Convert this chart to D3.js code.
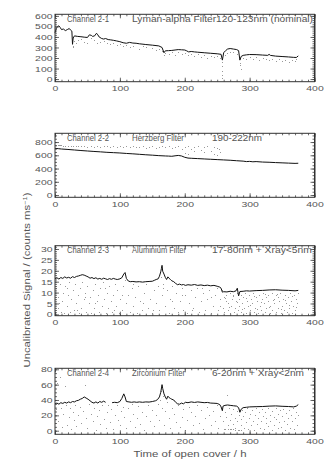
<!DOCTYPE html>
<html>
<head>
<meta charset="utf-8">
<script src="https://cdn.jsdelivr.net/npm/d3@7"></script>
<style>
  html, body { margin: 0; padding: 0; background: #fff; }
  svg { display: block; }
  text { font-family: "Liberation Sans", sans-serif; fill: #555; }
</style>
</head>
<body>
<svg id="chart" width="332" height="469"></svg>
<script>
// ---- data ----
const xTicks = [0, 100, 200, 300, 400];

const titles = [
  ["Channel 2-1", "Lyman-alpha Filter120-123nm (nominal)", ""],
  ["Channel 2-2", "Herzberg Filter", "190-222nm"],
  ["Channel 2-3", "Aluminium Filter", "17-80nm + Xray<5nm"],
  ["Channel 2-4", "Zirconium Filter", "6-20nm + Xray<2nm"]
];

const yTicks1 = [0, 100, 200, 300, 400, 500, 600];
const yTicks2 = [0, 200, 400, 600, 800];
const yTicks3 = [0, 5, 10, 15, 20, 25, 30];
const yTicks4 = [0, 20, 40, 60, 80];

// main traces [hours, signal]
const lyman = [[0,440],[2,480],[4,500],[6,505],[8,490],[10,470],[13,475],[16,460],[19,470],[22,480],[24,465],[26,455],[27,330],[28,390],[30,410],[35,405],[40,402],[45,398],[50,395],[53,420],[56,415],[58,405],[61,410],[64,435],[66,420],[68,400],[72,385],[75,380],[78,385],[82,375],[86,372],[90,368],[95,362],[100,355],[105,345],[110,340],[115,348],[120,342],[125,340],[130,335],[140,328],[150,322],[160,315],[165,300],[168,250],[170,268],[175,270],[180,272],[185,276],[190,280],[195,278],[200,276],[203,268],[206,258],[210,262],[215,258],[220,255],[230,250],[240,245],[250,240],[256,235],[258,180],[260,250],[263,270],[266,285],[270,290],[275,285],[280,280],[283,270],[285,180],[287,215],[290,225],[295,230],[300,233],[310,232],[320,228],[328,225],[330,235],[332,225],[340,218],[350,214],[360,210],[368,206],[372,205],[375,220]];

const herzberg = [[0,705],[5,700],[10,695],[20,688],[30,680],[40,672],[50,665],[60,658],[70,652],[80,645],[90,640],[100,635],[110,628],[120,622],[130,615],[140,608],[150,602],[160,595],[170,590],[175,588],[180,585],[185,592],[190,598],[195,590],[200,570],[205,558],[210,555],[220,550],[230,545],[240,540],[250,535],[260,530],[270,525],[280,518],[290,512],[295,505],[300,508],[305,502],[310,505],[320,498],[330,495],[340,490],[350,486],[360,482],[370,478],[375,480]];

const aluminium = [[0,16.3],[3,16.8],[6,16.2],[9,16.9],[12,16.5],[15,17.2],[18,16.7],[21,17.0],[24,16.6],[27,17.3],[30,16.9],[33,17.4],[36,17.6],[39,17.9],[42,18.2],[45,18.0],[48,17.6],[51,17.2],[54,16.6],[57,16.9],[60,16.4],[63,16.8],[66,16.2],[69,16.5],[72,16.1],[75,16.6],[78,16.3],[81,16.0],[84,16.4],[87,16.1],[90,16.5],[93,16.2],[96,16.0],[100,16.3],[103,16.8],[106,18.5],[108,19.2],[110,16.5],[113,15.3],[116,15.0],[120,15.1],[125,14.9],[130,15.0],[135,14.8],[140,15.0],[145,15.1],[150,15.2],[153,15.6],[156,16.0],[159,16.3],[161,17.5],[163,19.5],[164,21.0],[165,22.5],[166,19.8],[168,18.5],[170,17.0],[172,16.0],[174,17.2],[176,16.5],[178,16.0],[180,15.4],[183,15.0],[186,14.2],[189,13.6],[192,13.9],[195,13.5],[198,13.7],[201,13.3],[205,13.6],[210,13.4],[215,13.7],[220,13.3],[225,13.5],[230,13.2],[235,13.4],[240,13.1],[245,13.3],[250,12.9],[254,12.5],[256,12.0],[258,10.2],[260,10.4],[265,10.3],[270,10.6],[275,10.4],[279,10.8],[281,12.0],[283,8.5],[285,10.5],[290,10.6],[295,10.8],[300,10.7],[310,10.9],[320,11.0],[330,11.2],[340,11.3],[350,11.1],[360,11.0],[370,10.8],[375,11.0]];

const zirconium = [[0,35],[3,36],[6,34.5],[9,36.5],[12,35.5],[15,37],[18,36],[21,37.5],[24,36.5],[27,38],[30,37.5],[33,39],[36,39.5],[39,41],[42,42],[45,44],[48,42.5],[51,41],[54,39],[57,37],[60,36],[63,37.5],[66,36],[69,38],[72,37],[75,38.5],[78,37],[null,null],[88,36.5],[92,37],[96,36.5],[100,38],[103,42],[106,48],[108,44],[110,38],[114,37.5],[118,37],[122,37.5],[126,37],[130,37.5],[135,37],[140,37.5],[145,37.3],[150,38],[155,39],[158,40.5],[161,44],[163,50],[165,60],[166,55],[168,48],[170,44],[172,41],[174,45],[176,43],[178,42],[180,41],[183,40],[186,37],[189,35],[192,34.5],[195,36],[198,35],[201,37],[205,36.5],[210,37.5],[215,36.8],[220,37.5],[225,37],[230,36.5],[235,36.8],[240,36],[245,35.8],[250,35.5],[254,34],[256,31],[258,26],[259,32],[262,33],[266,33.5],[270,33],[275,32.5],[280,32],[283,30],[285,24],[287,28],[290,30],[295,30.5],[300,31],[310,31.3],[320,31.5],[330,32],[340,32.3],[350,31.8],[360,31.5],[368,31],[372,32],[375,34]];

// scattered low samples [hours, signal]
const lymanDots = [[27,300],[28,310],[30,360],[33,340],[36,370],[40,380],[45,355],[50,345],[55,390],[60,370],[65,340],[70,350],[75,360],[80,345],[85,330],[90,340],[95,320],[100,330],[105,310],[110,320],[115,300],[120,315],[130,290],[135,310],[140,300],[150,295],[155,280],[160,290],[165,270],[168,230],[170,250],[175,240],[180,255],[185,230],[190,260],[195,240],[200,250],[205,225],[210,240],[215,220],[220,235],[225,210],[230,225],[235,200],[240,220],[245,205],[250,215],[255,200],[258,160],[258,120],[258,80],[258,40],[258,10],[262,230],[265,250],[270,255],[275,260],[280,240],[285,150],[285,130],[286,100],[290,200],[295,190],[300,210],[305,195],[310,205],[315,185],[320,200],[325,190],[330,180],[335,195],[340,175],[345,190],[350,170],[355,185],[360,165],[365,180],[370,170],[372,190]];

const herzbergDots = [[0,755],[2,758],[4,760],[6,760],[8,760],[10,757],[13,745],[16,742],[20,740],[24,738],[28,742],[32,740],[36,738],[40,736],[45,742],[50,730],[55,738],[60,725],[65,740],[70,728],[75,735],[80,740],[85,725],[90,738],[95,720],[100,735],[105,728],[110,740],[115,722],[120,735],[125,718],[130,730],[135,738],[140,715],[145,728],[150,735],[155,712],[160,730],[165,740],[170,720],[175,735],[180,705],[185,728],[190,740],[195,700],[200,725],[205,740],[210,690],[215,725],[220,735],[225,680],[230,720],[235,735],[240,670],[245,728],[250,715],[253,690],[255,650],[200,640],[205,620],[215,660],[230,650],[245,620],[250,600]];

const aluminiumDots = [[2,12],[4,3],[5,8],[7,14],[9,1],[11,6],[13,10],[14,0.5],[16,13],[18,4],[20,9],[22,15],[23,1],[25,7],[27,11],[29,2],[31,14],[33,5],[35,9],[37,0.5],[38,12],[40,3],[42,15],[44,7],[46,10],[48,1],[50,13],[52,5],[54,8],[56,0.5],[58,11],[60,3],[62,14],[64,6],[66,9],[68,1],[70,12],[72,4],[74,15],[76,7],[78,0.5],[80,10],[82,3],[84,13],[86,6],[88,1],[90,9],[92,14],[94,4],[96,11],[98,0.5],[100,7],[103,2],[105,13],[108,16],[110,5],[112,9],[115,1],[118,12],[120,4],[123,8],[126,0.5],[128,13],[131,6],[134,2],[137,10],[140,14],[143,3],[146,7],[149,0.5],[152,11],[155,5],[158,13],[160,2],[163,17],[165,9],[167,14],[170,4],[172,11],[175,0.5],[177,7],[180,13],[183,3],[186,10],[189,1],[192,6],[195,12],[198,2],[201,9],[204,0.5],[207,5],[210,11],[213,3],[216,8],[219,12],[222,1],[225,6],[228,10],[231,2],[234,7],[237,11],[240,0.5],[243,4],[246,9],[249,12],[252,2],[255,7],[257,11],
  [259,3],[260,8],[261,1],[263,6],[264,9],[266,2],[267,5],[269,10],[270,0.5],[272,4],[273,7],[275,9],[276,1],[278,3],[279,6],[281,10],[282,2],[283,7],[284,4],[286,9],[287,1],[289,5],[290,8],[292,3],[293,10],[295,0.5],[296,6],[298,4],[299,9],[301,2],[302,7],[304,5],[305,10],[307,1],[308,3],[310,8],[311,6],[313,0.5],[314,9],[316,4],[317,2],[319,7],[320,10],[322,5],[323,1],[325,8],[326,3],[328,6],[329,9],[331,0.5],[332,4],[334,10],[335,2],[337,7],[338,5],[340,9],[341,1],[343,3],[344,8],[346,6],[347,10],[349,0.5],[350,4],[352,7],[353,2],[355,9],[356,5],[358,1],[359,8],[361,3],[362,10],[364,6],[365,0.5],[367,4],[368,9],[370,2],[371,7],[373,5],[374,10],
  [262,7.5],[268,3.5],[274,8.5],[280,5.5],[288,2.5],[294,7.5],[300,4.5],[306,8.5],[312,2.5],[318,5.5],[324,9.5],[330,3.5],[336,6.5],[342,9.5],[348,2.5],[354,6.5],[360,4.5],[366,8.5],[372,3.5],
  [6,5],[19,12],[34,2],[47,8],[61,5],[77,12],[91,2],[104,9],[121,14],[136,5],[151,2],[166,12],[181,6],[196,9],[211,2],[226,12],[241,8],[254,4]];

const zirconiumDots = [[1,28],[3,62],[5,12],[7,70],[9,30],[11,5],[13,22],[15,58],[17,33],[19,8],[21,18],[23,29],[25,2],[27,25],[29,14],[31,34],[33,6],[35,20],[38,31],[40,10],[43,26],[46,60],[48,16],[50,3],[53,35],[55,22],[58,12],[60,30],[63,1],[65,19],[68,27],[70,9],[73,33],[75,15],[78,4],[80,24],[82,33],[85,11],[87,28],[90,2],[92,20],[95,34],[97,14],[100,7],[102,26],[105,31],[107,18],[110,3],[112,29],[115,12],[118,35],[120,22],[123,5],[126,16],[128,32],[131,9],[134,25],[137,1],[140,19],[143,34],[146,12],[149,27],[152,6],[155,21],[158,35],[160,14],[162,40],[164,52],[165,30],[166,45],[168,8],[170,26],[173,38],[175,17],[178,3],[180,30],[183,22],[186,11],[189,33],[192,5],[195,18],[198,28],[201,1],[204,14],[207,31],[210,24],[213,7],[216,19],[219,34],[222,10],[225,27],[228,2],[231,16],[234,31],[237,21],[240,8],[243,26],[246,13],[249,33],[252,4],[255,19],[257,28],
  [259,12],[260,2],[262,25],[263,18],[265,47],[266,7],[268,30],[269,14],[271,2],[272,22],[274,28],[275,9],[277,17],[278,3],[280,26],[281,12],[283,20],[284,1],[286,15],[287,8],[289,27],[290,19],[292,4],[293,24],[295,11],[296,29],[298,2],[299,16],[301,22],[302,7],[304,27],[305,13],[307,1],[308,20],[310,29],[311,9],[313,17],[314,24],[316,4],[317,12],[319,28],[320,19],[322,2],[323,25],[325,10],[326,16],[328,29],[329,6],[331,21],[332,13],[334,1],[335,26],[337,18],[338,8],[340,29],[341,15],[343,3],[344,22],[346,11],[347,27],[349,5],[350,19],[352,28],[353,13],[355,1],[356,23],[358,9],[359,17],[361,27],[362,4],[364,20],[365,12],[367,29],[368,2],[370,16],[371,24],[373,8],[374,21],
  [262,2.5],[266,2.2],[270,2],[274,1.8],[278,1.5],[282,1.5],[286,1.2]];

// ---- layout ----
const svg = d3.select("#chart");
const left = 55, right = 314.5;
const x = d3.scaleLinear().domain([0, 400]).range([left, right]);

const panels = [
  { top: 14.3,  bottom: 81.7,  dom: [-25, 615],   ticks: yTicks1, minor: 20, line: lyman,     dots: lymanDots },
  { top: 133.3, bottom: 197.3, dom: [-34, 932],   ticks: yTicks2, minor: 50, line: herzberg,  dots: herzbergDots },
  { top: 245.7, bottom: 315.7, dom: [-0.6, 31.5], ticks: yTicks3, minor: 1,  line: aluminium, dots: aluminiumDots },
  { top: 368.3, bottom: 434.3, dom: [-4.7, 81.3], ticks: yTicks4, minor: 5,  line: zirconium, dots: zirconiumDots }
];

const xMinor = d3.range(0, 401, 10);

// wide, thin tick labels like the plotting package's stroke font
const styleAxis = sel => {
  sel.select(".domain").remove();
  sel.selectAll("line").attr("stroke", "#444").attr("stroke-width", 0.8);
  sel.selectAll("text")
    .attr("fill", "#666")
    .attr("font-size", "8px")
    .attr("font-family", "'Liberation Sans', sans-serif")
    .attr("textLength", function() { return this.textContent.length * 5.8; })
    .attr("lengthAdjust", "spacingAndGlyphs");
};

panels.forEach((p, i) => {
  const y = d3.scaleLinear().domain(p.dom).range([p.bottom, p.top]);
  const yMinor = d3.range(0, p.dom[1], p.minor);
  const g = svg.append("g");

  // dots
  g.append("g").selectAll("rect")
    .data(p.dots)
    .join("rect")
      .attr("x", d => Math.round(x(d[0])))
      .attr("y", d => Math.round(y(d[1])))
      .attr("width", 1)
      .attr("height", 1)
      .attr("fill", "#999");

  // trace
  const line = d3.line()
    .defined(d => d[0] != null)
    .x(d => x(d[0]))
    .y(d => y(d[1]));
  g.append("path")
    .datum(p.line)
    .attr("d", line)
    .attr("fill", "none")
    .attr("stroke", "#111")
    .attr("stroke-width", 1);

  // axes, ticks point inward
  g.append("g")
    .attr("transform", `translate(0,${p.bottom})`)
    .call(d3.axisBottom(x).tickValues(xTicks).tickSize(-4).tickPadding(4))
    .call(styleAxis);
  g.append("g")
    .attr("transform", `translate(0,${p.bottom})`)
    .call(d3.axisBottom(x).tickValues(xMinor).tickSize(-2).tickFormat(""))
    .call(styleAxis);
  g.append("g")
    .attr("transform", `translate(0,${p.top})`)
    .call(d3.axisTop(x).tickValues(xTicks).tickSize(-4).tickFormat(""))
    .call(styleAxis);
  g.append("g")
    .attr("transform", `translate(0,${p.top})`)
    .call(d3.axisTop(x).tickValues(xMinor).tickSize(-2).tickFormat(""))
    .call(styleAxis);

  g.append("g")
    .attr("transform", `translate(${left},0)`)
    .call(d3.axisLeft(y).tickValues(p.ticks).tickSize(-4).tickPadding(2.5))
    .call(styleAxis);
  g.append("g")
    .attr("transform", `translate(${left},0)`)
    .call(d3.axisLeft(y).tickValues(yMinor).tickSize(-2).tickFormat(""))
    .call(styleAxis);
  g.append("g")
    .attr("transform", `translate(${right},0)`)
    .call(d3.axisRight(y).tickValues(p.ticks).tickSize(-4).tickFormat(""))
    .call(styleAxis);
  g.append("g")
    .attr("transform", `translate(${right},0)`)
    .call(d3.axisRight(y).tickValues(yMinor).tickSize(-2).tickFormat(""))
    .call(styleAxis);

  // frame, right edge drawn heavier
  g.append("rect")
    .attr("x", left)
    .attr("y", p.top)
    .attr("width", right - left)
    .attr("height", p.bottom - p.top)
    .attr("fill", "none")
    .attr("stroke", "#333")
    .attr("stroke-width", 1);
  g.append("line")
    .attr("x1", right + 0.5).attr("x2", right + 0.5)
    .attr("y1", p.top).attr("y2", p.bottom)
    .attr("stroke", "#333")
    .attr("stroke-width", 1);

  // panel caption
  const t = titles[i];
  const capY = p.top + 7.5;
  const pieces = [
    { s: t[0], x: 67,  w: 42 },
    { s: t[1], x: 132, w: [181, 52, 54, 53][i] },
    { s: t[2], x: 212, w: [0, 50, 100, 92][i] }
  ];
  pieces.filter(d => d.s).forEach(d => {
    g.append("text")
      .attr("x", d.x)
      .attr("y", capY)
      .attr("font-size", "8.2px")
      .attr("textLength", d.w)
      .attr("lengthAdjust", "spacingAndGlyphs")
      .text(d.s);
  });
});

// axis titles
svg.append("text")
  .attr("x", 190)
  .attr("y", 457)
  .attr("text-anchor", "middle")
  .attr("font-size", "9px")
  .attr("textLength", 113)
  .attr("lengthAdjust", "spacingAndGlyphs")
  .text("Time of open cover / h");

const yTitle = svg.append("text")
  .attr("transform", "translate(30,280) rotate(-90)")
  .attr("text-anchor", "middle")
  .attr("font-size", "9px")
  .attr("textLength", 175)
  .attr("lengthAdjust", "spacingAndGlyphs");
yTitle.append("tspan").text("Uncalibrated Signal / (counts ms");
yTitle.append("tspan").attr("font-size", "6px").attr("dy", -3.5).text("−1");
yTitle.append("tspan").attr("dy", 3.5).text(")");
</script>
</body>
</html>
